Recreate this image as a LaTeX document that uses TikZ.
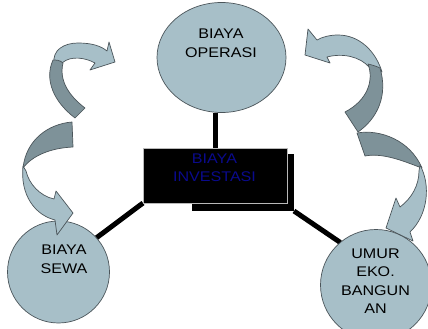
\documentclass[tikz,border=0pt]{standalone}
\usepackage{fontspec}
\setmainfont{Liberation Sans}[FakeStretch=1.15]
\usepackage{tikz}
\usetikzlibrary{positioning, shapes.geometric, backgrounds}

\definecolor{bubblefill}{RGB}{167,191,200}
\definecolor{ribbondark}{RGB}{126,146,153}
\definecolor{ribbonline}{RGB}{75,85,90}
\definecolor{investblue}{RGB}{10,10,140}

\begin{document}
\begin{tikzpicture}[x=1pt,y=-1pt,
        bubble/.style={draw=ribbonline,fill=bubblefill,line width=0.7pt,inner sep=0pt,outer sep=0pt},
        oval/.style={bubble,ellipse,minimum width=129pt,minimum height=110pt},
        roundbubble/.style={bubble,circle},
        investbox/.style={rectangle,fill=black,draw=gray!55,line width=0.8pt,inner sep=0pt,outer sep=0pt},
        shadebox/.style={rectangle,fill=black,inner sep=0pt,outer sep=0pt},
        caption/.style={align=center,inner sep=0pt,text=black,font=\fontsize{14}{18.5}\selectfont},
        spoke/.style={draw=black,line width=5pt},
        lightface/.style={fill=bubblefill,draw=ribbonline,line width=0.7pt,line join=round},
        darkface/.style={fill=ribbondark,draw=ribbonline,line width=0.7pt,line join=round}]
        \useasboundingbox (0,0) rectangle (428,329);

        \node[shadebox,minimum width=102pt,minimum height=57pt] (invshadow) at (243,182.5) {};
        \node[investbox,minimum width=144pt,minimum height=55pt] (inv) at (215,175.5) {};
        \node[oval] (oper) at (221.5,57.5) {};
        \node[roundbubble,minimum size=102pt] (sewa) at (58.5,272) {};
        \node[roundbubble,minimum size=111pt] (umur) at (376,285) {};

        \begin{scope}[on background layer]
        \path[spoke] (inv.north) edge (inv.north |- oper.south)
                     (inv.south west) edge (sewa.42)
                     (invshadow.south east) edge (umur.130);
        \end{scope}

        \node[caption] (opertext) at (221,43.5) {BIAYA\\OPERASI};
        \node[caption,text=investblue] (invtext) at (214.5,168) {BIAYA\\INVESTASI};
        \node[caption] (sewatext) at (64,259) {BIAYA\\SEWA};
        \node[caption] (umurtext) at (375.5,281) {UMUR\\EKO.\\BANGUN\\AN};

        \filldraw[lightface] (54,64) .. controls (52,50) and (64,43) .. (78,43) .. controls (92,43) and (101,46) .. (107,51)
            -- (109,42) -- (115,62) -- (90,70) -- (95,63) .. controls (86,58) and (71,55) .. (62,63) -- cycle;
        \filldraw[darkface] (53,60) .. controls (44,80) and (54,102) .. (75,118) -- (85,108)
            .. controls (68,95) and (59,80) .. (63,63) .. controls (60,60) and (56,60) .. (53,60) -- cycle;
        \filldraw[darkface] (72,122) .. controls (48,124) and (26,140) .. (23,168) .. controls (32,156) and (50,148) .. (73,147) -- cycle;
        \filldraw[lightface] (23,166) .. controls (20,195) and (35,215) .. (55,220) -- (57,235) -- (73,213) -- (56,191) -- (54,199)
            .. controls (40,196) and (29,184) .. (26,171) -- cycle;

        \filldraw[lightface] (317,40) -- (308,29) -- (305,55) -- (330,63) -- (327,57) .. controls (342,53) and (360,56) .. (370,68)
            -- (382,72) .. controls (376,52) and (360,35) .. (338,35) .. controls (330,35) and (322,37) .. (317,40) -- cycle;
        \filldraw[darkface] (368,64) .. controls (374,80) and (368,100) .. (345,112) -- (358,132)
            .. controls (378,118) and (388,95) .. (380,68) .. controls (376,66) and (372,65) .. (368,64) -- cycle;
        \filldraw[darkface] (357,133) .. controls (380,129) and (410,140) .. (422,168) .. controls (410,164) and (385,152) .. (365,156) -- cycle;
        \filldraw[lightface] (420,165) .. controls (431,185) and (428,215) .. (410,232) -- (413,241) -- (386,228) -- (396,198) -- (400,207)
            .. controls (412,198) and (419,185) .. (419,171) -- cycle;
\end{tikzpicture}
\end{document}
